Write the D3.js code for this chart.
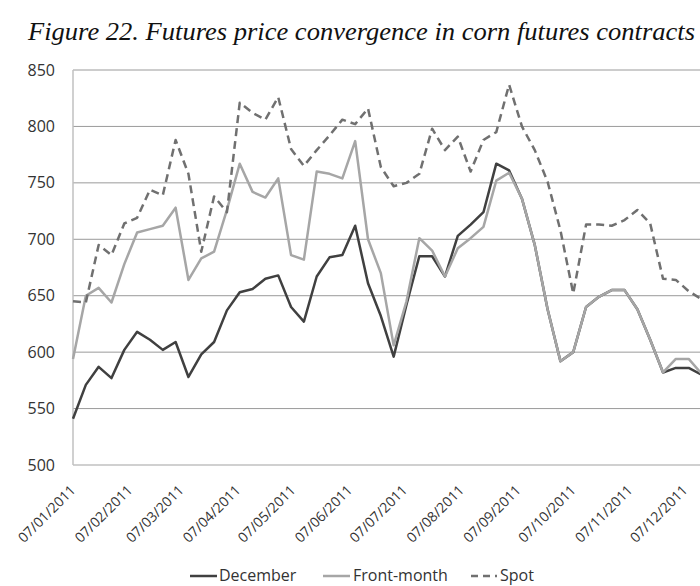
<!DOCTYPE html>
<html>
  <head>
    <meta charset="utf-8">
    <title>Corn futures convergence</title>
    <script src="https://d3js.org/d3.v7.min.js"></script>
    <style>
      body { margin: 0; background: #fff; }
    </style>
  </head>
  <body>
    <div id="chart"></div>
  </body>
  <script>
  // weekly observations (Fridays)
  var weeks = [
    "2011-01-07","2011-01-14","2011-01-21","2011-01-28",
    "2011-02-04","2011-02-11","2011-02-18","2011-02-25",
    "2011-03-04","2011-03-11","2011-03-18","2011-03-25",
    "2011-04-01","2011-04-08","2011-04-15","2011-04-22","2011-04-29",
    "2011-05-06","2011-05-13","2011-05-20","2011-05-27",
    "2011-06-03","2011-06-10","2011-06-17","2011-06-24",
    "2011-07-01","2011-07-08","2011-07-15","2011-07-22","2011-07-29",
    "2011-08-05","2011-08-12","2011-08-19","2011-08-26",
    "2011-09-02","2011-09-09","2011-09-16","2011-09-23","2011-09-30",
    "2011-10-07","2011-10-14","2011-10-21","2011-10-28",
    "2011-11-04","2011-11-11","2011-11-18","2011-11-25",
    "2011-12-02","2011-12-09","2011-12-16"
  ];

  var december = [
    541, 571, 587, 577, 602, 618, 611, 602, 609, 578,
    598, 609, 637, 653, 656, 665, 668, 640, 627, 667,
    684, 686, 712, 661, 632, 596, 642, 685, 685, 667,
    703, 713, 724, 767, 761, 736, 695, 638, 592, 600,
    640, 649, 655, 655, 638, 611, 582, 586, 586, 580
  ];
  var frontMonth = [
    594, 650, 657, 644, 678, 706, 709, 712, 728, 664,
    683, 689, 726, 767, 742, 737, 754, 686, 682, 760,
    758, 754, 787, 700, 670, 606, 645, 701, 690, 667,
    692, 701, 711, 752, 759, 736, 695, 638, 592, 600,
    640, 649, 655, 655, 638, 611, 582, 594, 594, 581
  ];
  var spot = [
    645, 644, 695, 686, 714, 719, 744, 739, 788, 758,
    689, 738, 724, 821, 812, 806, 826, 780, 765, 779,
    792, 806, 802, 816, 764, 747, 750, 758, 798, 779,
    791, 760, 788, 795, 837, 800, 779, 751, 708, 652,
    713, 713, 712, 717, 726, 714, 665, 664, 654, 647
  ];

  var tickDates = [
    "2011-01-07","2011-02-07","2011-03-07","2011-04-07","2011-05-07","2011-06-07",
    "2011-07-07","2011-08-07","2011-09-07","2011-10-07","2011-11-07","2011-12-07"
  ];
  var yTicks = [500, 550, 600, 650, 700, 750, 800, 850];

  var series = [
    { name: "December",    values: december,   color: "#404040", dash: null },
    { name: "Front-month", values: frontMonth, color: "#a6a6a6", dash: null },
    { name: "Spot",        values: spot,       color: "#707070", dash: "8,5" }
  ];

  var width = 700, height = 586;
  var parse = d3.timeParse("%Y-%m-%d");
  var fmt = d3.timeFormat("%d/%m/%Y");
  var dates = weeks.map(parse);

  var x = d3.scaleTime()
      .domain([dates[0], dates[dates.length - 1]])
      .range([73, 701.5]);
  var y = d3.scaleLinear()
      .domain([500, 850])
      .range([465, 70]);

  var svg = d3.select("#chart")
      .append("svg")
      .attr("width", width)
      .attr("height", height);

  // title
  svg.append("text")
      .attr("x", 28)
      .attr("y", 40)
      .attr("font-family", "'Liberation Serif', 'DejaVu Serif', serif")
      .attr("font-style", "italic")
      .attr("font-size", "25px")
      .attr("fill", "#111")
      .attr("textLength", 667)
      .attr("lengthAdjust", "spacingAndGlyphs")
      .text("Figure 22. Futures price convergence in corn futures contracts");

  // gridlines
  svg.append("g")
      .selectAll("line")
      .data(yTicks)
      .enter()
      .append("line")
      .attr("x1", 73)
      .attr("x2", 700)
      .attr("y1", d => y(d))
      .attr("y2", d => y(d))
      .attr("stroke", d => d === 500 ? "#c0c0c0" : "#9a9a9a")
      .attr("stroke-width", d => d === 500 ? 1.5 : 1);

  // left axis line
  svg.append("line")
      .attr("x1", 73).attr("x2", 73)
      .attr("y1", y(850)).attr("y2", y(500))
      .attr("stroke", "#c0c0c0")
      .attr("stroke-width", 1.5);

  // y labels
  var yAxis = d3.axisLeft(y).tickValues(yTicks).tickSize(0).tickPadding(18);
  var gy = svg.append("g")
      .attr("transform", "translate(73,0)")
      .call(yAxis);
  gy.select(".domain").remove();
  gy.selectAll("text")
      .attr("font-family", "'Open Sans', sans-serif")
      .attr("font-size", "16px")
      .attr("fill", "#333");

  // x labels
  var xAxis = d3.axisBottom(x)
      .tickValues(tickDates.map(parse))
      .tickFormat(fmt)
      .tickSize(0)
      .tickPadding(0);
  var gx = svg.append("g")
      .attr("transform", "translate(0,465)")
      .call(xAxis);
  gx.select(".domain").remove();
  gx.selectAll("text")
      .attr("font-family", "'Open Sans', sans-serif")
      .attr("font-size", "14px")
      .attr("fill", "#333")
      .attr("text-anchor", "end")
      .attr("dy", 0)
      .attr("transform", "translate(3,26) rotate(-45)");

  // lines
  var line = d3.line()
      .x((d, i) => x(dates[i]))
      .y(d => y(d));

  svg.append("g")
      .selectAll("path")
      .data(series)
      .enter()
      .append("path")
      .attr("d", d => line(d.values))
      .attr("fill", "none")
      .attr("stroke", d => d.color)
      .attr("stroke-width", 2.5)
      .attr("stroke-linejoin", "round")
      .attr("stroke-dasharray", d => d.dash);

  // legend
  var legendPos = [
    { lx: 190, lw: 27, tx: 219 },
    { lx: 323, lw: 27, tx: 353 },
    { lx: 471, lw: 26, tx: 500 }
  ];
  var legend = svg.append("g")
      .selectAll("g")
      .data(series)
      .enter()
      .append("g");
  legend.append("line")
      .attr("x1", (d, i) => legendPos[i].lx)
      .attr("x2", (d, i) => legendPos[i].lx + legendPos[i].lw)
      .attr("y1", 576)
      .attr("y2", 576)
      .attr("stroke", d => d.color)
      .attr("stroke-width", 2.5)
      .attr("stroke-dasharray", d => d.dash ? "7,5" : null);
  legend.append("text")
      .attr("x", (d, i) => legendPos[i].tx)
      .attr("y", 581)
      .attr("font-family", "'Open Sans', sans-serif")
      .attr("font-size", "16px")
      .attr("fill", "#333")
      .text(d => d.name);
  </script>
</html>
